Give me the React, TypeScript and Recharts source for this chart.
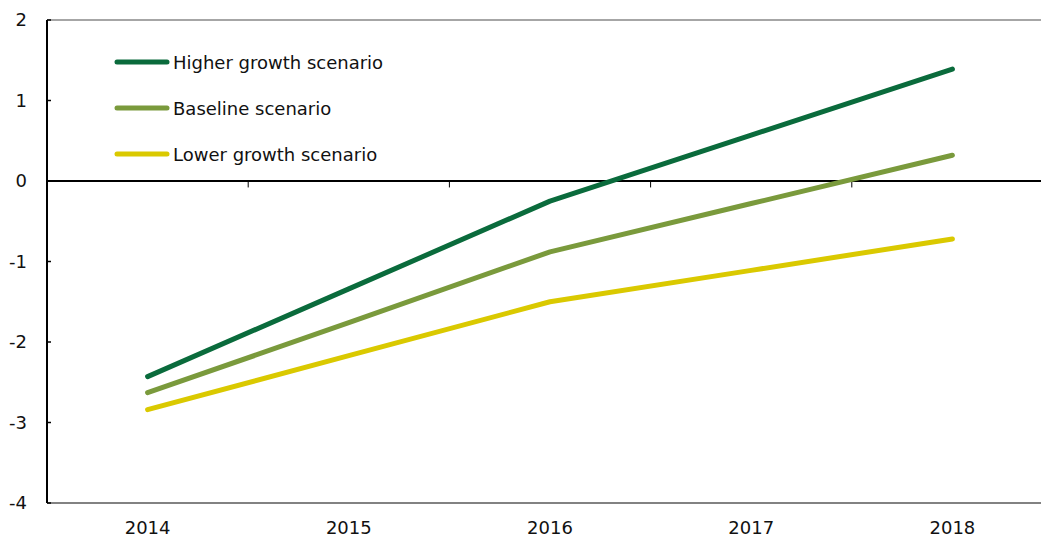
import { LineChart, Line, XAxis, YAxis, ReferenceLine } from "recharts";

const years = [2014, 2015, 2016, 2017, 2018];
const higherGrowth = [-2.43, -1.34, -0.25, 0.57, 1.39];
const baseline = [-2.63, -1.76, -0.88, -0.28, 0.32];
const lowerGrowth = [-2.84, -2.17, -1.5, -1.11, -0.72];
const yTicks = [-4, -3, -2, -1, 0, 1, 2];

const series = [
  { key: "higher", name: "Higher growth scenario", color: "#0a6b3c" },
  { key: "baseline", name: "Baseline scenario", color: "#7a9a3c" },
  { key: "lower", name: "Lower growth scenario", color: "#dac900" },
];

const data = years.map((year, i) => ({
  year,
  higher: higherGrowth[i],
  baseline: baseline[i],
  lower: lowerGrowth[i],
}));

// category boundaries, drawn as small ticks under the zero line
const boundaries = years.slice(0, -1).map((y) => y + 0.5);

const FONT = "'DejaVu Sans', sans-serif";

function ScenarioLegend() {
  return (
    <div style={{ position: "absolute", left: 112, top: 39, fontFamily: FONT, fontSize: 18, color: "#111" }}>
      {series.map((s) => (
        <div key={s.key} style={{ display: "flex", alignItems: "center", height: 46 }}>
          <svg width={59} height={10}>
            <line x1={5} y1={5} x2={55} y2={5} stroke={s.color} strokeWidth={5} strokeLinecap="round" />
          </svg>
          <span style={{ marginLeft: 2 }}>{s.name}</span>
        </div>
      ))}
    </div>
  );
}

export default function App() {
  return (
    <div style={{ position: "absolute", left: 0, top: 0, width: 1041, height: 537, overflow: "hidden", background: "#fff" }}>
      <LineChart width={1070} height={537} data={data} margin={{ top: 20, right: 17, bottom: 0, left: 0 }}>
        <XAxis
          dataKey="year"
          type="number"
          domain={[2013.5, 2018.5]}
          ticks={years}
          tickLine={false}
          tickSize={0}
          tickMargin={18}
          height={34}
          axisLine={{ stroke: "#595959", strokeWidth: 1.5 }}
          tick={{ fontSize: 18, fill: "#111", fontFamily: FONT }}
        />
        <YAxis
          domain={[-4, 2]}
          ticks={yTicks}
          width={47}
          tickSize={-4}
          tickMargin={24}
          axisLine={{ stroke: "#000", strokeWidth: 2 }}
          tickLine={{ stroke: "#000", strokeWidth: 1.5 }}
          tick={{ fontSize: 18, fill: "#111", fontFamily: FONT }}
        />
        <ReferenceLine y={2} stroke="#a6a6a6" strokeWidth={2} />
        <ReferenceLine y={0} stroke="#000" strokeWidth={2} />
        {boundaries.map((b) => (
          <ReferenceLine
            key={b}
            segment={[
              { x: b, y: 0 },
              { x: b, y: -0.08 },
            ]}
            stroke="#000"
            strokeWidth={1}
          />
        ))}
        {series.map((s) => (
          <Line
            key={s.key}
            type="linear"
            dataKey={s.key}
            name={s.name}
            stroke={s.color}
            strokeWidth={5}
            strokeLinecap="round"
            strokeLinejoin="round"
            dot={false}
            activeDot={false}
            isAnimationActive={false}
          />
        ))}
      </LineChart>
      <ScenarioLegend />
    </div>
  );
}
